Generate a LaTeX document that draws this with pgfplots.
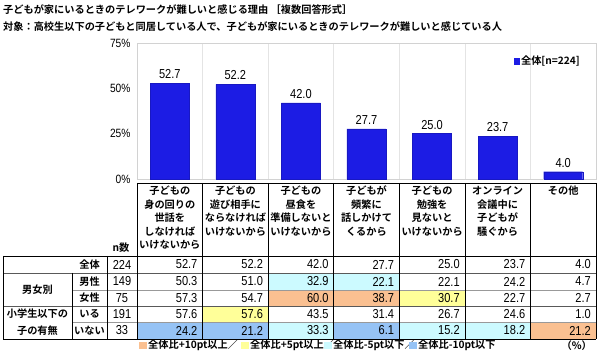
\documentclass[border=0pt]{standalone}
\usepackage{pgfplots}
\pgfplotsset{compat=1.18}
\usepackage{fontspec}
\setmainfont{Liberation Sans}
\newfontfamily\numfont{Liberation Sans}[FakeStretch=0.85]
\newfontfamily\jp{Noto Sans CJK JP}[BoldFont={Noto Sans CJK JP Bold}]
\definecolor{barblue}{RGB}{28,28,228}
\definecolor{cOr}{RGB}{250,192,145}
\definecolor{cYe}{RGB}{255,255,153}
\definecolor{cCy}{RGB}{204,250,255}
\definecolor{cBl}{RGB}{150,195,245}
\definecolor{gridgray}{RGB}{228,228,228}
\definecolor{boxgray}{RGB}{210,210,210}
\newcommand{\jb}{\jp\bfseries\fontsize{10.2}{14}\selectfont}
\newcommand{\nf}{\numfont\fontsize{13}{13}\selectfont}
\begin{document}
\begin{tikzpicture}
\useasboundingbox (0,0) rectangle (600pt,-352pt);
\begin{axis}[
  at={(137pt,-179pt)}, anchor=south west,
  scale only axis, width=459pt, height=136pt,
  xmin=-0.5, xmax=6.5, ymin=0, ymax=75,
  ytick={0,25,50,75}, yticklabels={0\%,25\%,50\%,75\%},
  yticklabel style={font=\numfont\fontsize{12}{12}\selectfont, xshift=-3pt},
  xtick={0.5,1.5,2.5,3.5,4.5,5.5}, xticklabels={},
  xmajorgrids, major grid style={gridgray, line width=0.6pt},
  major tick length=0pt,
  axis line style={boxgray, line width=0.6pt},
  ybar, bar width=39pt,
  point meta=y,
  nodes near coords={\pgfmathprintnumber[fixed,fixed zerofill,precision=1,assume math mode=true]{\pgfplotspointmeta}},
  every node near coord/.append style={font=\nf, yshift=1pt, text=black},
  legend style={at={(1,1)}, anchor=north east, xshift=-14pt, yshift=-11pt, draw=none, fill=none, font=\jb, inner sep=0pt},
  legend image code/.code={\fill[barblue] (0pt,-3pt) rectangle (5pt,3pt);},
  clip=false,
]
\addplot[fill=barblue, draw=barblue!85!black] coordinates {(0,52.7) (1,52.2) (2,42.0) (3,27.7) (4,25.0) (5,23.7) (6,4.0)};
\addlegendentry{全体[n=224]}
\end{axis}
\begin{scope}[x=1pt,y=-1pt]
% title
\node[anchor=west, inner sep=0pt, font=\jb] at (3,10) {子どもが家にいるときのテレワークが難しいと感じる理由 ［複数回答形式］};
\node[anchor=west, inner sep=0pt, font=\jb] at (3,27) {対象：高校生以下の子どもと同居している人で、子どもが家にいるときのテレワークが難しいと感じている人};
% cell fills
\fill[cCy] (268.14,273) rectangle (333.71,290);
\fill[cCy] (333.71,273) rectangle (399.29,290);
\fill[cOr] (268.14,290) rectangle (333.71,306);
\fill[cOr] (333.71,290) rectangle (399.29,306);
\fill[cYe] (399.29,290) rectangle (464.86,306);
\fill[cYe] (202.57,306) rectangle (268.14,322);
\fill[cBl] (137,322) rectangle (202.57,339);
\fill[cBl] (202.57,322) rectangle (268.14,339);
\fill[cCy] (268.14,322) rectangle (333.71,339);
\fill[cBl] (333.71,322) rectangle (399.29,339);
\fill[cCy] (399.29,322) rectangle (464.86,339);
\fill[cCy] (464.86,322) rectangle (530.43,339);
\fill[cOr] (530.43,322) rectangle (596,339);
% grey row lines
\draw[gray!80, line width=0.5pt] (72,290) -- (596,290);
\draw[gray!80, line width=0.5pt] (72,322) -- (596,322);
\draw[gray!70!black, line width=0.6pt] (3,273) -- (596,273);
\draw[gray!70!black, line width=0.6pt] (3,306) -- (596,306);
% black lines
\begin{scope}[black, line width=0.7pt]
\draw (137,183) -- (596,183);
\foreach \xx in {137,202.57,268.14,333.71,399.29,464.86,530.43,596} \draw (\xx,183) -- (\xx,339);
\draw (3,256) -- (596,256);
\draw (3,339) -- (596,339);
\draw (3,256) -- (3,339);
\draw (107,256) -- (107,339);
\draw (72,273) -- (72,339);
\end{scope}
% header labels
\foreach \cx/\lines in {169.8/{子どもの,身の回りの,世話を,しなければ,いけないから},
                      235.4/{子どもの,遊び相手に,ならなければ,いけないから},
                      300.9/{子どもの,昼食を,準備しないと,いけないから},
                      366.5/{子どもが,頻繁に,話しかけて,くるから},
                      432.1/{子どもの,勉強を,見ないと,いけないから},
                      497.6/{オンライン,会議中に,子どもが,騒ぐから},
                      563.2/{その他}}{
  \foreach \l [count=\k from 0] in \lines
    \node[inner sep=0pt, font=\jb] at (\cx,{191+13.5*\k}) {\l};
}
\node[font=\jb, inner sep=0pt] at (121,248) {n数};
% row labels
\node[font=\jb, inner sep=0pt] at (89.5,264.5) {全体};
\node[font=\jb, inner sep=0pt] at (89.5,281.5) {男性};
\node[font=\jb, inner sep=0pt] at (89.5,298) {女性};
\node[font=\jb, inner sep=0pt] at (89.5,314) {いる};
\node[font=\jb, inner sep=0pt] at (89.5,330.5) {いない};
\node[font=\jb, inner sep=0pt] at (37.5,289.5) {男女別};
\node[font=\jb, inner sep=0pt] at (37.5,314) {小学生以下の};
\node[font=\jb, inner sep=0pt] at (37.5,330.5) {子の有無};
% n and values
\foreach \yy/\nn/\vals in {264.5/224/{52.7,52.2,42.0,27.7,25.0,23.7,4.0},
                           281.5/149/{50.3,51.0,32.9,22.1,22.1,24.2,4.7},
                           298/75/{57.3,54.7,60.0,38.7,30.7,22.7,2.7},
                           314/191/{57.6,57.6,43.5,31.4,26.7,24.6,1.0},
                           330.5/33/{24.2,21.2,33.3,6.1,15.2,18.2,21.2}}{
  \node[font=\nf, inner sep=0pt] at (122,\yy) {\nn};
  \foreach \v [count=\i] in \vals
    \node[font=\nf, inner sep=0pt, anchor=east] at ({137+65.571*\i-5},\yy) {\v};
}
% bottom legend
\fill[cOr] (139,342) rectangle (147,349);
\node[anchor=west, inner sep=0pt, font=\jb] at (148,345.5) {全体比+10pt以上／};
\fill[cYe] (241,342) rectangle (249,349);
\node[anchor=west, inner sep=0pt, font=\jb] at (250,345.5) {全体比+5pt以上／};
\fill[cCy] (324,342) rectangle (332,349);
\node[anchor=west, inner sep=0pt, font=\jb] at (333,345.5) {全体比-5pt以下／};
\fill[cBl] (409,342) rectangle (417,349);
\node[anchor=west, inner sep=0pt, font=\jb] at (418,345.5) {全体比-10pt以下};
\node[anchor=east, inner sep=0pt, font=\jb] at (592,345.5) {（\%）};
\end{scope}
\end{tikzpicture}
\end{document}
